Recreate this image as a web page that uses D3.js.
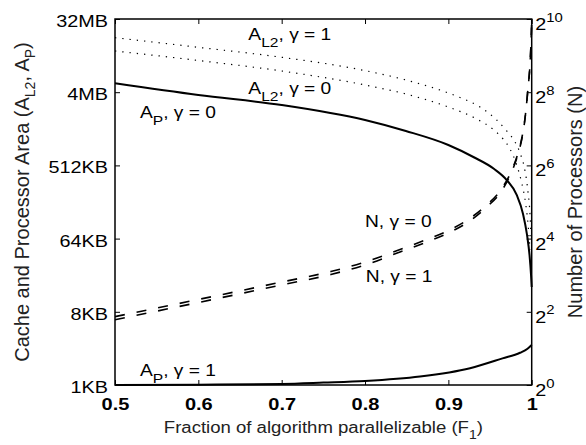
<!DOCTYPE html>
<html lang="en">
<head>
  <meta charset="UTF-8">
  <title>Cache and processor area vs. parallel fraction</title>
  <script src="https://d3js.org/d3.v7.min.js"></script>
  <style>
    body { margin: 0; background: #fff; }
    svg { font-family: "Liberation Sans", Arial, sans-serif; }
    .curve { fill: none; stroke: #000; }
  </style>
</head>
<body>
  <svg width="586" height="445"></svg>

  <script>
    // ---- data (areas in KB) ----
    const fApG0 = [0.5, 0.6, 0.7, 0.8, 0.849, 0.9, 0.93, 0.955, 0.97, 0.982, 0.9896, 0.9944, 0.9974, 0.9992, 1.0];
    const apG0  = [5275, 3782, 2847, 1860, 1361, 914, 650, 462, 338, 221, 129, 71, 40, 22.8, 16.2];

    const fApG1 = [0.5, 0.6, 0.7, 0.75, 0.8, 0.866, 0.926, 0.965, 0.986, 0.995, 1.0];
    const apG1  = [1.0, 1.01, 1.03, 1.07, 1.12, 1.27, 1.61, 2.13, 2.5, 2.8, 3.11];

    const fL2G1 = [0.5, 0.6, 0.7, 0.8, 0.849, 0.9, 0.914, 0.938, 0.958, 0.97, 0.98, 0.986, 0.992, 0.9956, 0.998, 0.9994];
    const l2G1  = [19270, 14660, 11040, 7565, 5793, 4004, 3524, 2690, 1860, 1361, 995, 728, 437, 240, 125, 58];

    const fL2G0 = [0.5, 0.6, 0.7, 0.8, 0.849, 0.9, 0.934, 0.954, 0.9656, 0.974, 0.982, 0.988, 0.993, 0.996, 0.998];
    const l2G0  = [13210, 10080, 7480, 5025, 3892, 2690, 1914, 1420, 1084, 816, 518, 311, 166, 86.5, 46.3];

    const fN    = [0.5, 0.6, 0.7, 0.759, 0.8, 0.842, 0.874, 0.9, 0.922, 0.946, 0.962, 0.974, 0.9836, 0.9884, 0.992, 0.9956, 0.998, 0.9992, 1.0];
    const nG0   = [3.65, 5.05, 7.03, 8.58, 10.27, 13.02, 15.73, 18.65, 22.55, 30.2, 39.4, 54.4, 81, 109.6, 157, 277, 437, 650, 967];
    const nG1   = [3.44, 4.77, 6.65, 8.11, 9.71, 12.41, 15.0, 17.79, 21.5, 29.1, 37.9, 52.9, 79.4, 107.6, 155.5, 277, 437, 650, 967];

    const xTicks = [0.5, 0.6, 0.7, 0.8, 0.9, 1.0];
    const xTickLabels = ["0.5", "0.6", "0.7", "0.8", "0.9", "1"];
    const areaTicks = [1, 8, 64, 512, 4096, 32768];
    const areaTickLabels = ["1KB", "8KB", "64KB", "512KB", "4MB", "32MB"];
    const nTicks = [1, 4, 16, 64, 256, 1024];
    const nTickExps = ["0", "2", "4", "6", "8", "10"];

    // ---- layout ----
    const svg = d3.select("svg");
    const x0 = 115, x1 = 531.7, y0 = 19, y1 = 385;

    const x = d3.scaleLinear().domain([0.5, 1]).range([x0, x1]);
    const yArea = d3.scaleLog().base(2).domain([1, 32768]).range([y1, y0]);
    const yN = d3.scaleLog().base(2).domain([1, 1024]).range([y1, y0]);

    svg.append("rect").attr("width", 586).attr("height", 445).attr("fill", "#fff");

    // ---- curves ----
    function drawCurve(fs, vs, yScale, dash, width) {
      const pts = fs.map((f, i) => [f, vs[i]]);
      const line = d3.line()
        .x(d => x(d[0]))
        .y(d => yScale(d[1]))
        .curve(d3.curveMonotoneX);
      svg.append("path")
        .attr("class", "curve")
        .attr("d", line(pts))
        .attr("stroke-width", width)
        .attr("stroke-dasharray", dash);
    }

    drawCurve(fL2G1, l2G1, yArea, "1.3,6", 1.2);
    drawCurve(fL2G0, l2G0, yArea, "1.3,6", 1.2);
    drawCurve(fApG0, apG0, yArea, null, 2);
    drawCurve(fApG1, apG1, yArea, null, 2);
    drawCurve(fN, nG0, yN, "10,12", 1.6);
    drawCurve(fN, nG1, yN, "10,12", 1.6);

    // ---- axes ----
    const gB = svg.append("g").attr("transform", `translate(0,${y1})`)
      .call(d3.axisBottom(x).tickValues(xTicks).tickFormat((d, i) => xTickLabels[i])
        .tickSizeInner(-5).tickSizeOuter(0));
    gB.select(".domain").remove();
    gB.selectAll("text")
      .attr("y", null).attr("dy", null)
      .attr("transform", "translate(0,25) scale(1.25,1)")
      .attr("font-size", 16).attr("font-weight", "bold").attr("fill", "#000")
      .attr("font-family", "Liberation Sans, Arial, sans-serif");

    const gT = svg.append("g").attr("transform", `translate(0,${y0})`)
      .call(d3.axisTop(x).tickValues(xTicks).tickFormat("").tickSizeInner(-5).tickSizeOuter(0));
    gT.select(".domain").remove();

    const gL = svg.append("g").attr("transform", `translate(${x0},0)`)
      .call(d3.axisLeft(yArea).tickValues(areaTicks).tickFormat((d, i) => areaTickLabels[i])
        .tickSizeInner(-5).tickSizeOuter(0));
    gL.select(".domain").remove();
    gL.selectAll("text")
      .attr("x", null).attr("dy", "0.47em")
      .attr("transform", "translate(-7,0) scale(1.24,1)")
      .attr("font-size", 16).attr("fill", "#000")
      .attr("font-family", "Liberation Sans, Arial, sans-serif");

    const gR = svg.append("g").attr("transform", `translate(${x1},0)`)
      .call(d3.axisRight(yN).tickValues(nTicks).tickFormat("").tickSizeInner(-5).tickSizeOuter(0));
    gR.select(".domain").remove();
    gR.selectAll(".tick").each(function (d, i) {
      const t = d3.select(this).append("text")
        .attr("transform", "translate(3.5,10.5) scale(1.24,1)")
        .attr("fill", "#000").attr("font-size", 16)
        .attr("text-anchor", "start");
      t.append("tspan").text("2");
      t.append("tspan").attr("font-size", 12).attr("dy", -8.5).text(nTickExps[i]);
    });

    svg.selectAll(".tick line").attr("stroke", "#000").attr("stroke-width", 1);

    svg.append("rect")
      .attr("x", x0).attr("y", y0)
      .attr("width", x1 - x0).attr("height", y1 - y0)
      .attr("fill", "none").attr("stroke", "#000").attr("stroke-width", 1.5);

    // ---- labels ----
    function richText(g, parts, subSize, shift) {
      parts.forEach(p => {
        const ts = g.append("tspan").text(p[0]);
        if (p[1] === "sub") ts.attr("font-size", subSize).attr("dy", shift);
        if (p[1] === "up") ts.attr("dy", -shift);
      });
    }

    const curveLabels = [
      { f: 0.66, y: yArea(18000), parts: [["A"], ["L2", "sub"], [", γ = 1", "up"]] },
      { f: 0.66, y: yArea(3900), parts: [["A"], ["L2", "sub"], [", γ = 0", "up"]] },
      { f: 0.53, y: yArea(1965), parts: [["A"], ["P", "sub"], [", γ = 0", "up"]] },
      { f: 0.8, y: yN(20), parts: [["N, γ = 0"]] },
      { f: 0.801, y: yN(7.03), parts: [["N, γ = 1"]] },
      { f: 0.53, y: yArea(1.29), parts: [["A"], ["P", "sub"], [", γ = 1", "up"]] }
    ];
    curveLabels.forEach(l => {
      const t = svg.append("text")
        .attr("transform", `translate(${x(l.f)},${l.y}) scale(1.2,1)`)
        .attr("font-size", 16).attr("fill", "#000");
      richText(t, l.parts, 13, 7);
    });

    svg.append("text")
      .attr("transform", `translate(${(x0 + x1) / 2},433) scale(1.16,1)`)
      .attr("text-anchor", "middle").attr("font-size", 16).attr("fill", "#222")
      .call(t => richText(t, [["Fraction of algorithm parallelizable (F"], ["1", "sub"], [")", "up"]], 12, 6));

    svg.append("text")
      .attr("transform", `translate(29,${(y0 + y1) / 2}) rotate(-90)`)
      .attr("text-anchor", "middle").attr("font-size", 20).attr("fill", "#222")
      .call(t => richText(t, [["Cache and Processor Area (A"], ["L2", "sub"], [", A", "up"], ["P", "sub"], [")", "up"]], 14, 6));

    svg.append("text")
      .attr("transform", `translate(582,${(y0 + y1) / 2}) rotate(-90)`)
      .attr("text-anchor", "middle").attr("font-size", 20).attr("fill", "#222")
      .text("Number of Processors (N)");
  </script>
</body>
</html>
